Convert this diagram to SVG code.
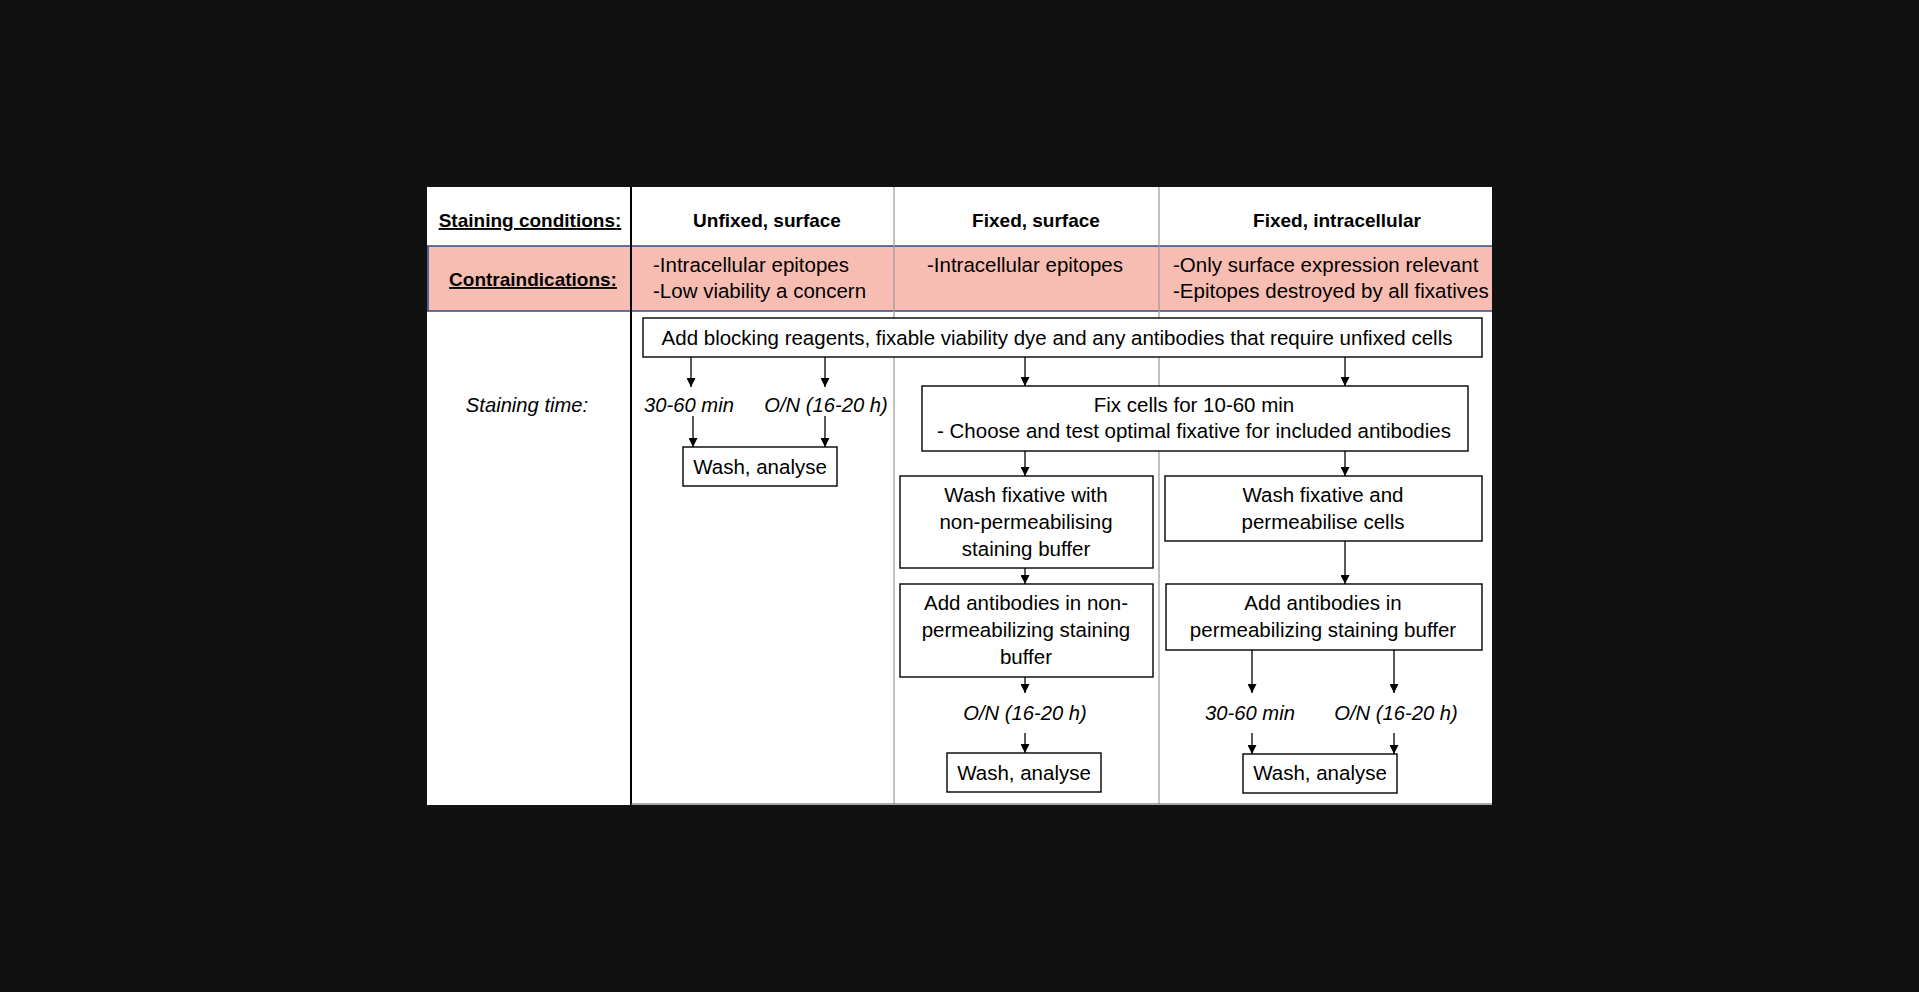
<svg xmlns="http://www.w3.org/2000/svg" width="1919" height="992" viewBox="0 0 1919 992">
<defs>
<marker id="ah" viewBox="0 0 10 10" refX="10" refY="5" markerWidth="9" markerHeight="9" markerUnits="userSpaceOnUse" orient="auto">
<path d="M0,0 L10,5 L0,10 z" fill="#000"/>
</marker>
<style>
text{font-family:"Liberation Sans",Arial,sans-serif;fill:#000;}
.r{font-size:20.5px;}
.c{text-anchor:middle;}
.b{font-size:19px;font-weight:bold;}
.u{text-decoration:underline;}
.i{font-size:20.2px;font-style:italic;}
.box{fill:#fff;stroke:#000;stroke-width:1.4;}
.conn line{stroke:#000;stroke-width:1.3;marker-end:url(#ah);}
.grid{stroke:#999;stroke-width:1.2;}
</style>
</defs>
<rect x="0" y="0" width="1919" height="992" fill="#111"/>
<g id="table">
<rect x="427" y="187" width="1065" height="618" fill="#fff"/>
<rect x="427" y="246" width="1065" height="65" fill="#F7BDB3"/>
<line x1="427" y1="246" x2="1492" y2="246" stroke="#2F4A86" stroke-width="1.6"/>
<line x1="427" y1="311" x2="1492" y2="311" stroke="#2F4A86" stroke-width="1.6"/>
<line x1="428" y1="246" x2="428" y2="311" stroke="#2F4A86" stroke-width="1.6"/>
<line class="grid" x1="894" y1="187" x2="894" y2="804"/>
<line class="grid" x1="1159" y1="187" x2="1159" y2="804"/>
<line x1="631" y1="187" x2="631" y2="805" stroke="#000" stroke-width="2"/>
<line x1="631" y1="804" x2="1492" y2="804" stroke="#555" stroke-width="1"/>
</g>
<g id="headers">
<text class="b u c" x="530" y="227">Staining conditions:</text>
<text class="b c" x="767" y="227">Unfixed, surface</text>
<text class="b c" x="1036" y="227">Fixed, surface</text>
<text class="b c" x="1337" y="227">Fixed, intracellular</text>
</g>
<g id="contraindications">
<text class="b u c" x="533" y="286">Contraindications:</text>
<text class="r" x="653" y="272">-Intracellular epitopes</text>
<text class="r" x="653" y="298">-Low viability a concern</text>
<text class="r" x="927" y="272">-Intracellular epitopes</text>
<text class="r" x="1173" y="272">-Only surface expression relevant</text>
<text class="r" x="1173" y="298">-Epitopes destroyed by all fixatives</text>
</g>
<g id="staining-time-label">
<text class="i c" x="527" y="412">Staining time:</text>
</g>
<g class="conn" id="connectors">
<line x1="691" y1="357" x2="691" y2="387"/>
<line x1="825" y1="357" x2="825" y2="387"/>
<line x1="1025" y1="357" x2="1025" y2="386"/>
<line x1="1345" y1="357" x2="1345" y2="386"/>
<line x1="693" y1="416" x2="693" y2="447"/>
<line x1="825" y1="416" x2="825" y2="447"/>
<line x1="1025" y1="451" x2="1025" y2="476"/>
<line x1="1345" y1="451" x2="1345" y2="476"/>
<line x1="1025" y1="568" x2="1025" y2="584"/>
<line x1="1345" y1="541" x2="1345" y2="584"/>
<line x1="1025" y1="677" x2="1025" y2="693"/>
<line x1="1025" y1="733" x2="1025" y2="753"/>
<line x1="1252" y1="650" x2="1252" y2="693"/>
<line x1="1394" y1="650" x2="1394" y2="693"/>
<line x1="1252" y1="733" x2="1252" y2="754"/>
<line x1="1394" y1="733" x2="1394" y2="754"/>
</g>
<g id="add-blocking">
<rect class="box" x="643" y="318" width="839" height="39"/>
<text class="r c" x="1057" y="345">Add blocking reagents, fixable viability dye and any antibodies that require unfixed cells</text>
</g>
<g id="time-unfixed-short"><text class="i c" x="689" y="412">30-60 min</text></g>
<g id="time-unfixed-on"><text class="i c" x="826" y="412">O/N (16-20 h)</text></g>
<g id="wash-analyse-1">
<rect class="box" x="683" y="447" width="154" height="39"/>
<text class="r c" x="760" y="474">Wash, analyse</text>
</g>
<g id="fix-cells">
<rect class="box" x="922" y="386" width="546" height="65"/>
<text class="r c" x="1194" y="412">Fix cells for 10-60 min</text>
<text class="r c" x="1194" y="438">- Choose and test optimal fixative for included antibodies</text>
</g>
<g id="wash-nonperm">
<rect class="box" x="900" y="476" width="253" height="92"/>
<text class="r c" x="1026" y="502">Wash fixative with</text>
<text class="r c" x="1026" y="529">non-permeabilising</text>
<text class="r c" x="1026" y="556">staining buffer</text>
</g>
<g id="add-ab-nonperm">
<rect class="box" x="900" y="584" width="253" height="93"/>
<text class="r c" x="1026" y="610">Add antibodies in non-</text>
<text class="r c" x="1026" y="637">permeabilizing staining</text>
<text class="r c" x="1026" y="664">buffer</text>
</g>
<g id="time-fixed-surface"><text class="i c" x="1025" y="720">O/N (16-20 h)</text></g>
<g id="wash-analyse-2">
<rect class="box" x="947" y="753" width="154" height="39"/>
<text class="r c" x="1024" y="780">Wash, analyse</text>
</g>
<g id="wash-perm">
<rect class="box" x="1165" y="476" width="317" height="65"/>
<text class="r c" x="1323" y="502">Wash fixative and</text>
<text class="r c" x="1323" y="529">permeabilise cells</text>
</g>
<g id="add-ab-perm">
<rect class="box" x="1166" y="584" width="316" height="66"/>
<text class="r c" x="1323" y="610">Add antibodies in</text>
<text class="r c" x="1323" y="637">permeabilizing staining buffer</text>
</g>
<g id="time-intra-short"><text class="i c" x="1250" y="720">30-60 min</text></g>
<g id="time-intra-on"><text class="i c" x="1396" y="720">O/N (16-20 h)</text></g>
<g id="wash-analyse-3">
<rect class="box" x="1243" y="754" width="154" height="39"/>
<text class="r c" x="1320" y="780">Wash, analyse</text>
</g>
</svg>
